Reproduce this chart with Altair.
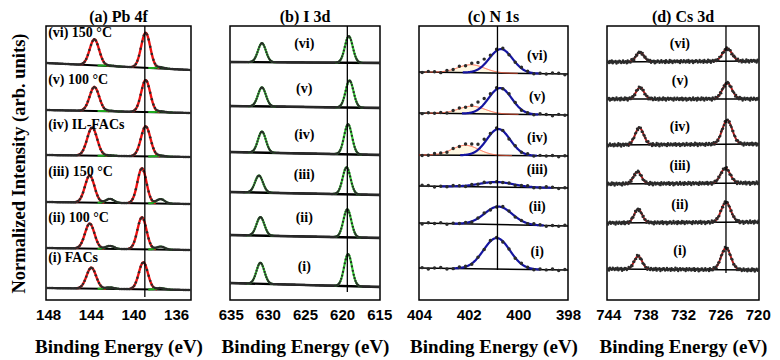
import altair as alt
import numpy as np
import pandas as pd

PLOT_H = 274
ROMAN = ["(i)", "(ii)", "(iii)", "(iv)", "(v)", "(vi)"]

# ---------------- (a) Pb 4f ----------------
pb_labels = ["(i) FACs", "(ii) 100 °C", "(iii) 150 °C", "(iv) IL-FACs", "(v) 100 °C", "(vi) 150 °C"]
pb_ticks = [148, 144, 140, 136]
pb_range = [134.6, 148.2]
pb_base_hi = [12, 52, 98, 145, 190, 237]
pb_base_lo = [10, 50, 96, 143, 187, 230]
pb_red1_c = [143.95, 144.10, 144.10, 143.87, 143.66, 143.66]
pb_red1_h = [21, 25, 27, 28, 24, 26]
pb_red1_w = [1.05, 1.05, 1.05, 1.1, 1.05, 1.05]
pb_red2_c = [139.07, 139.20, 139.20, 138.85, 138.85, 138.85]
pb_red2_h = [27, 32, 35, 30, 32, 35]
pb_red2_w = [1.0, 1.0, 1.0, 1.05, 1.0, 1.0]
pb_grn1_c = [142.2, 142.2, 142.2, 142.2, 142.2, 142.2]
pb_grn1_h = [1.5, 3.0, 4.0, 0.6, 0.6, 0.6]
pb_grn2_c = [137.45, 137.45, 137.45, 137.45, 137.45, 137.45]
pb_grn2_h = [1.5, 3.0, 4.5, 1.0, 1.0, 1.2]
pb_grn_w = [0.9, 0.9, 0.9, 0.9, 0.9, 0.9]
pb_vline = 138.93

# ---------------- (b) I 3d ----------------
i_ticks = [635, 630, 625, 620, 615]
i_range = [614.9, 635.1]
i_base_hi = [17, 65, 108, 148, 194, 238]
i_base_lo = [13, 62, 105, 145, 192, 237]
i_p1_c = [631.0, 631.0, 631.2, 630.8, 630.8, 630.8]
i_p1_h = [21, 18.5, 17, 21, 19, 19]
i_p2_c = [619.2, 619.3, 619.4, 619.2, 619.0, 619.1]
i_p2_h = [32, 28, 27, 30, 27, 26.5]
i_w = [1.25, 1.25, 1.25, 1.25, 1.25, 1.25]
i_vline = 619.3

# ---------------- (c) N 1s ----------------
n_ticks = [404, 402, 400, 398]
n_range = [398.0, 404.0]
n_base_hi = [32, 77, 114, 145, 187, 228]
n_base_lo = [30, 74, 112, 144, 185, 226]
n_blue_c = [400.87, 400.80, 400.88, 400.80, 400.73, 400.70]
n_blue_h = [31, 18, 5, 26.5, 26, 24]
n_blue_w = [1.25, 1.3, 1.6, 1.1, 1.1, 1.1]
n_orng_c = [402.0, 402.0, 402.0, 402.13, 401.87, 401.90]
n_orng_h = [0, 0, 0, 10, 7.5, 8]
n_orng_w = [1.25, 1.25, 1.25, 1.25, 1.25, 1.25]
n_noise = [0.4, -0.6, 0.8, -0.2, 0.5, -0.9, 0.3, 0.7, -0.5, 0.1, -0.8, 0.6, 0.9,
           -0.4, 0.2, -0.7, 0.5, 1.0, -0.3, -0.6, 0.8, 0.2, -0.9, 0.4, -0.1]
n_vline = 400.84

# ---------------- (d) Cs 3d ----------------
cs_ticks = [744, 738, 732, 726, 720]
cs_range = [719.8, 744.2]
cs_base_hi = [31, 77, 116, 155, 201, 238]
cs_base_lo = [30, 78, 117, 156, 201, 239]
cs_p1_c = [739.2, 739.2, 739.3, 739.0, 738.9, 738.9]
cs_p1_h = [13, 13.5, 12, 17, 11.5, 9.5]
cs_p1_w = [1.5, 1.5, 1.5, 1.6, 1.5, 1.5]
cs_p2_c = [725.1, 725.1, 725.2, 724.9, 724.9, 724.9]
cs_p2_h = [22, 20, 15, 24, 16, 12.5]
cs_p2_w = [1.8, 1.8, 1.8, 1.9, 1.8, 1.8]
cs_noise = [0.5, -0.8, 1.2, 0.3, -1.5, 0.9, -0.4, 1.6, -1.1, 0.2, -0.6, 1.3, -1.4, 0.7,
            0.1, -0.9, 1.5, -0.3, -1.2, 0.8, 1.1, -0.7, 0.4, -1.6, 1.0, -0.2, 0.6, -1.3,
            1.4, -0.5, 0.9, -1.0, 0.3, 1.2, -0.8, -0.1, 1.3, -1.5, 0.5, -0.6, 1.0]
cs_vline = 725.1

SERIF = "Liberation Serif"
SANS = "Liberation Sans"


def gauss(E, c, h, fwhm):
    s = fwhm / 2.3548
    return h * np.exp(-0.5 * ((E - c) / s) ** 2)


def background(E, v_hi, v_lo, rng):
    lo, hi = rng
    return v_lo + (v_hi - v_lo) * (E - lo) / (hi - lo)


def build_panel(title, rng, ticks, step, base_hi, base_lo, comps, labels,
                label_E, label_align, label_dy, vline, vline_bottom, width,
                dot_size, bg_width, noise=None, y_title=None, fill_comp=None):
    lo, hi = rng
    E_dots = np.round(np.arange(lo + step / 2, hi, step), 4)
    dots, bgs = [], []
    comp_rows = {k: [] for k in range(len(comps))}
    texts = []
    for t in range(6):
        bg = background(E_dots, base_hi[t], base_lo[t], rng)
        total = bg.copy()
        for k, comp in enumerate(comps):
            if comp["h"][t] <= 0:
                continue
            total = total + gauss(E_dots, comp["c"][t], comp["h"][t], comp["w"][t])
            c, w = comp["c"][t], comp["w"][t]
            Eg = np.arange(max(lo, c - comp["span"] * w), min(hi, c + comp["span"] * w), 0.01)
            bgg = background(Eg, base_hi[t], base_lo[t], rng)
            yg = bgg + gauss(Eg, c, comp["h"][t], w)
            for e, yv, b in zip(Eg, yg, bgg):
                comp_rows[k].append({"E": e, "y": yv, "y0": b, "trace": t})
        if noise is not None:
            idx = (np.arange(len(E_dots)) + 7 * t) % len(noise)
            total = total + np.array(noise)[idx]
        for e, yv in zip(E_dots, total):
            dots.append({"E": e, "y": yv, "trace": t})
        bgs.append({"E": lo, "y": base_lo[t], "trace": t})
        bgs.append({"E": hi, "y": base_hi[t], "trace": t})
        texts.append({"E": label_E,
                      "y": float(background(np.array(label_E), base_hi[t], base_lo[t], rng)) + label_dy,
                      "label": labels[t]})

    x = alt.X("E:Q",
              scale=alt.Scale(domain=[lo, hi], reverse=True, nice=False, zero=False),
              axis=alt.Axis(values=ticks, format="d", title="Binding Energy (eV)",
                            grid=False, ticks=False, domain=False, labelFlush=False,
                            labelPadding=7, titlePadding=15, labelOverlap=False))
    if y_title:
        yaxis = alt.Axis(title=y_title, labels=False, ticks=False, domain=False,
                         grid=False, titlePadding=18, titleFontSize=18.5)
    else:
        yaxis = None
    y = alt.Y("y:Q", scale=alt.Scale(domain=[0, PLOT_H], nice=False, zero=False),
              axis=yaxis)

    layers = []
    if fill_comp is not None and comp_rows[fill_comp]:
        layers.append(
            alt.Chart(pd.DataFrame(comp_rows[fill_comp])).mark_area(
                color="#fff8e2", opacity=1, clip=True
            ).encode(x=x, y=y, y2="y0:Q", detail="trace:N")
        )
    layers.append(
        alt.Chart(pd.DataFrame(bgs)).mark_line(color="black", strokeWidth=bg_width, clip=True)
        .encode(x=x, y=y, detail="trace:N")
    )
    for k, comp in enumerate(comps):
        if not comp_rows[k]:
            continue
        layers.append(
            alt.Chart(pd.DataFrame(comp_rows[k])).mark_line(
                color=comp["color"], strokeWidth=comp["sw"], clip=True
            ).encode(x=x, y=y, detail="trace:N")
        )
    layers.append(
        alt.Chart(pd.DataFrame(dots)).mark_circle(size=dot_size, color="#2a2a2a",
                                                  opacity=1, clip=True)
        .encode(x=x, y=y)
    )
    layers.append(
        alt.Chart(pd.DataFrame([{"E": vline, "y": PLOT_H, "y2": vline_bottom}]))
        .mark_rule(color="black", strokeWidth=1.3)
        .encode(x=x, y=y, y2="y2:Q")
    )
    layers.append(
        alt.Chart(pd.DataFrame(texts)).mark_text(
            font=SERIF, fontSize=14, fontWeight="bold", align=label_align,
            baseline="middle", color="black"
        ).encode(x=x, y=y, text="label:N")
    )
    return alt.layer(*layers).properties(
        width=width, height=PLOT_H,
        title=alt.TitleParams(title, font=SERIF, fontSize=16, fontWeight="bold",
                              anchor="middle", offset=0, color="black"),
    )


RED = "#f01010"
GREEN_A = "#1faa1f"
GREEN_B = "#33cc33"
BLUE = "#1515a0"
ORANGE = "#ff5a3a"
CSRED = "#b01818"

pa = build_panel(
    "(a) Pb 4f", pb_range, pb_ticks, 0.15, pb_base_hi, pb_base_lo,
    [
        {"c": pb_red1_c, "h": pb_red1_h, "w": pb_red1_w, "color": RED, "sw": 2.4, "span": 1.3},
        {"c": pb_red2_c, "h": pb_red2_h, "w": pb_red2_w, "color": RED, "sw": 2.4, "span": 1.3},
        {"c": pb_grn1_c, "h": pb_grn1_h, "w": pb_grn_w, "color": GREEN_A, "sw": 2.0, "span": 1.3},
        {"c": pb_grn2_c, "h": pb_grn2_h, "w": pb_grn_w, "color": GREEN_A, "sw": 2.0, "span": 1.3},
    ],
    pb_labels, 148.0, "left", 30, pb_vline, 3, 145, 6, 2.2,
    y_title="Normalized Intensity (arb. units)",
)

pb_ = build_panel(
    "(b) I 3d", i_range, i_ticks, 0.12, i_base_hi, i_base_lo,
    [
        {"c": i_p1_c, "h": i_p1_h, "w": i_w, "color": GREEN_B, "sw": 2.2, "span": 1.5},
        {"c": i_p2_c, "h": i_p2_h, "w": i_w, "color": GREEN_B, "sw": 2.2, "span": 1.5},
    ],
    ROMAN, 625.1, "center", 18, i_vline, 8, 150, 5, 2.4,
)

pc = build_panel(
    "(c) N 1s", n_range, n_ticks, 0.25, n_base_hi, n_base_lo,
    [
        {"c": n_orng_c, "h": n_orng_h, "w": n_orng_w, "color": ORANGE, "sw": 1.0, "span": 1.5},
        {"c": n_blue_c, "h": n_blue_h, "w": n_blue_w, "color": BLUE, "sw": 2.2, "span": 1.4},
    ],
    ROMAN, 399.24, "center", 18, n_vline, 30, 149, 12, 1.5,
    noise=n_noise, fill_comp=0,
)

pd_ = build_panel(
    "(d) Cs 3d", cs_range, cs_ticks, 0.15, cs_base_hi, cs_base_lo,
    [
        {"c": cs_p1_c, "h": cs_p1_h, "w": cs_p1_w, "color": CSRED, "sw": 2.0, "span": 1.3},
        {"c": cs_p2_c, "h": cs_p2_h, "w": cs_p2_w, "color": CSRED, "sw": 2.0, "span": 1.3},
    ],
    ROMAN, 732.5, "center", 18, cs_vline, 27, 152, 6, 1.3,
    noise=cs_noise,
)

chart = (
    alt.hconcat(pa, pb_, pc, pd_, spacing=39, bounds="flush")
    .configure_view(stroke="black", strokeWidth=1.5)
    .configure_axis(labelFont=SANS, labelFontSize=15, labelFontWeight="bold",
                    labelColor="black", titleFont=SERIF, titleFontSize=19,
                    titleFontWeight="bold", titleColor="black")
    .properties(padding={"left": 0, "top": 0, "right": 0, "bottom": 0},
                background="white")
)

chart.save("out.html", embed_options={"renderer": "svg", "actions": False})
